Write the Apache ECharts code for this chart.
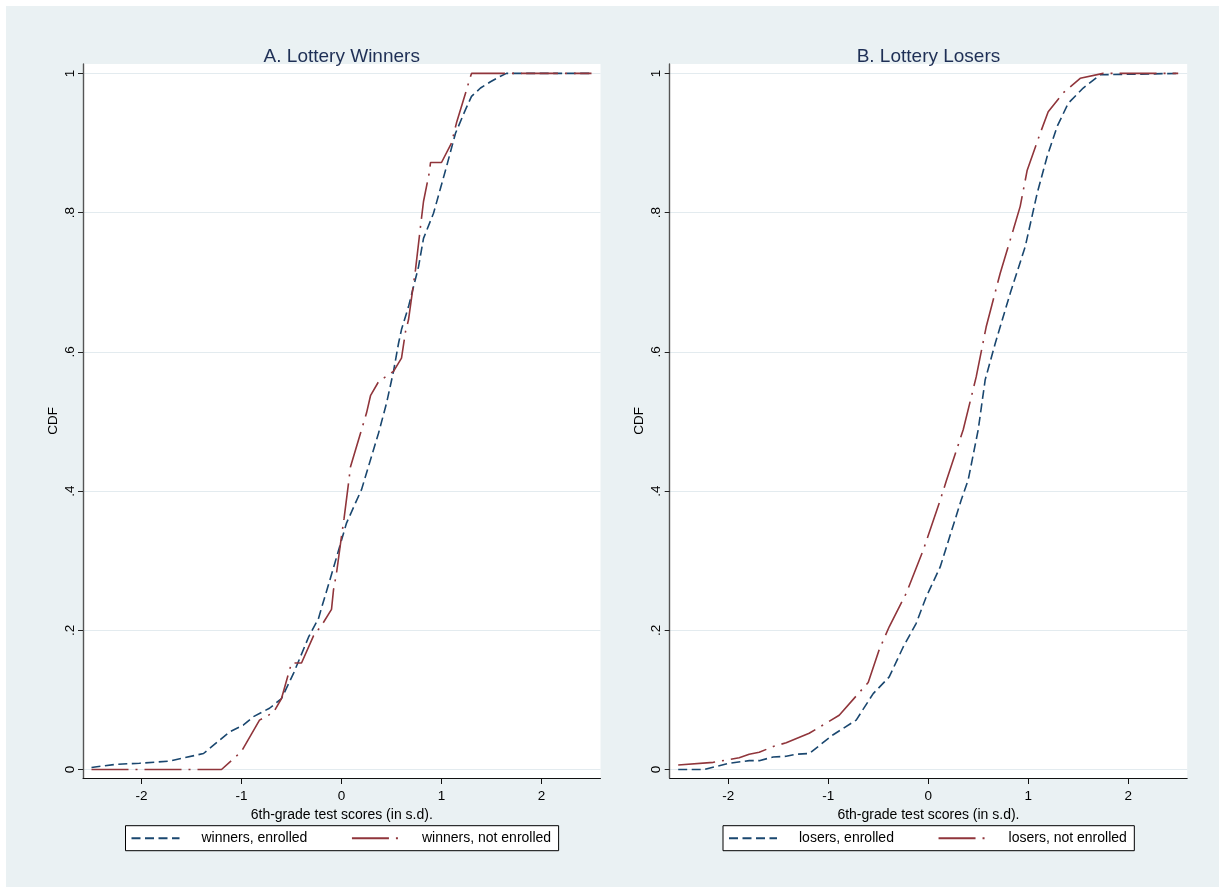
<!DOCTYPE html>
<html>
<head>
<meta charset="utf-8">
<script src="https://cdn.jsdelivr.net/npm/echarts@6/dist/echarts.min.js"></script>
<style>
html,body{margin:0;padding:0;background:#ffffff;}
#chart{position:absolute;left:6px;top:6px;width:1213px;height:881px;}
</style>
</head>
<body>
<div id="chart"></div>
<script>
// ---- tick values / labels ----
const xTicks = [-2, -1, 0, 1, 2];
const yTicks = [0, 0.2, 0.4, 0.6, 0.8, 1];
const yTickLabels = ['0', '.2', '.4', '.6', '.8', '1'];

const panelTitles = ['A. Lottery Winners', 'B. Lottery Losers'];
const xTitle = '6th-grade test scores (in s.d).';
const yTitle = 'CDF';
const seriesNames = ['winners, enrolled', 'winners, not enrolled', 'losers, enrolled', 'losers, not enrolled'];

// ---- Panel A: winners, enrolled ----
const winEnrX = [-2.5, -2.25, -2.02, -1.72, -1.38, -1.12, -0.98, -0.88, -0.72, -0.6, -0.48, -0.33, -0.23, -0.2, -0.1, 0.05, 0.14, 0.2, 0.29, 0.37, 0.45, 0.52, 0.57, 0.6, 0.67, 0.77, 0.82, 0.92, 0.99, 1.05, 1.14, 1.24, 1.3, 1.39, 1.49, 1.59, 1.65, 2.5];
const winEnrY = [0.003, 0.0075, 0.009, 0.012, 0.023, 0.054, 0.064, 0.076, 0.088, 0.102, 0.138, 0.19, 0.217, 0.232, 0.28, 0.354, 0.383, 0.402, 0.445, 0.483, 0.526, 0.572, 0.612, 0.632, 0.665, 0.722, 0.763, 0.799, 0.835, 0.866, 0.914, 0.948, 0.967, 0.979, 0.988, 0.996, 1.0, 1.0];

// ---- Panel A: winners, not enrolled ----
const winNotX = [-2.5, -1.2, -1.0, -0.82, -0.68, -0.6, -0.5, -0.4, -0.28, -0.19, -0.1, -0.08, -0.05, 0.0, 0.025, 0.07, 0.09, 0.19, 0.25, 0.29, 0.37, 0.44, 0.52, 0.6, 0.64, 0.67, 0.74, 0.79, 0.82, 0.88, 0.89, 1.0, 1.1, 1.15, 1.25, 1.28, 1.3, 2.5];
const winNotY = [0.0, 0.0, 0.026, 0.071, 0.082, 0.102, 0.153, 0.153, 0.192, 0.209, 0.23, 0.258, 0.282, 0.335, 0.36, 0.411, 0.435, 0.483, 0.512, 0.537, 0.557, 0.564, 0.572, 0.591, 0.629, 0.646, 0.718, 0.78, 0.816, 0.859, 0.872, 0.872, 0.9, 0.929, 0.976, 0.991, 1.0, 1.0];

// ---- Panel B: losers, enrolled ----
const loseEnrX = [-2.5, -2.24, -1.99, -1.79, -1.69, -1.55, -1.42, -1.32, -1.19, -0.95, -0.72, -0.55, -0.39, -0.25, -0.12, -0.02, 0.12, 0.33, 0.4, 0.5, 0.57, 0.67, 0.82, 0.97, 1.09, 1.19, 1.29, 1.4, 1.55, 1.72, 2.5];
const loseEnrY = [0.0, 0.0, 0.009, 0.0127, 0.0127, 0.018, 0.019, 0.022, 0.023, 0.05, 0.071, 0.109, 0.133, 0.176, 0.21, 0.248, 0.291, 0.387, 0.416, 0.488, 0.56, 0.612, 0.684, 0.751, 0.828, 0.881, 0.924, 0.957, 0.979, 0.998, 1.0];

// ---- Panel B: losers, not enrolled ----
const loseNotX = [-2.5, -2.15, -1.89, -1.79, -1.69, -1.55, -1.42, -1.19, -0.89, -0.65, -0.6, -0.49, -0.39, -0.22, -0.05, 0.12, 0.18, 0.35, 0.48, 0.58, 0.72, 0.85, 0.92, 0.99, 1.12, 1.2, 1.35, 1.52, 1.75, 2.5];
const loseNotY = [0.0065, 0.0103, 0.017, 0.022, 0.0247, 0.033, 0.0385, 0.052, 0.078, 0.117, 0.125, 0.172, 0.205, 0.253, 0.315, 0.387, 0.414, 0.488, 0.564, 0.636, 0.713, 0.775, 0.809, 0.861, 0.914, 0.945, 0.972, 0.993, 1.0, 1.0];

const BLUE = '#1a476f';
const RED = '#90353b';
const FONT = '"Liberation Sans", Arial, Helvetica, sans-serif';

function pairs(xs, ys) { return xs.map((x, i) => [x, ys[i]]); }
function yLabel(v) {
  const i = yTicks.findIndex(t => Math.abs(t - v) < 1e-9);
  return i >= 0 ? yTickLabels[i] : '';
}

const gridLefts = [77, 663.7];
const grids = gridLefts.map(l => ({
  left: l, top: 58, width: 517.5, height: 714,
  show: true, backgroundColor: '#ffffff', borderWidth: 0, containLabel: false
}));

function makeX(idx) {
  return {
    type: 'value', gridIndex: idx, min: -2.585, max: 2.59,
    name: xTitle, nameLocation: 'middle', nameGap: 30,
    nameTextStyle: { color: '#000', fontSize: 14, fontFamily: FONT },
    axisLine: { show: true, onZero: false, lineStyle: { color: '#111', width: 1 } },
    axisTick: { show: true, length: 6, customValues: xTicks, lineStyle: { color: '#111', width: 1 } },
    axisLabel: { customValues: xTicks, margin: 11, color: '#000', fontSize: 13.5, fontFamily: FONT,
      formatter: v => String(v) },
    splitLine: { show: false }
  };
}
function makeY(idx) {
  return {
    type: 'value', gridIndex: idx, min: -0.0122, max: 1.0135,
    name: yTitle, nameLocation: 'middle', nameGap: 23, nameRotate: 90,
    nameTextStyle: { color: '#000', fontSize: 13.5, fontFamily: FONT },
    axisLine: { show: true, onZero: false, lineStyle: { color: '#555', width: 1.4 } },
    axisTick: { show: true, length: 5, customValues: yTicks, lineStyle: { color: '#222', width: 1 } },
    axisLabel: { customValues: yTicks, rotate: 90, margin: 6, color: '#000', fontSize: 13.5, fontFamily: FONT,
      formatter: yLabel },
    splitLine: { show: true, lineStyle: { color: '#e3ebef', width: 1.2 } }
  };
}

const dashBlue = [9, 4.5];
const dashRed = [37, 7, 2, 7];

function line(name, xs, ys, idx, color, dash) {
  return {
    name: name, type: 'line', xAxisIndex: idx, yAxisIndex: idx,
    data: pairs(xs, ys), symbol: 'none', smooth: false,
    lineStyle: { color: color, width: 1.6, type: dash },
    itemStyle: { color: color },
    emphasis: { disabled: true }
  };
}

function makeLegend(left, names) {
  return {
    data: names, left: left, top: 819.7, orient: 'horizontal',
    padding: [5.5, 7.5, 5.5, 5], itemWidth: 48, itemHeight: 14, itemGap: 43.6,
    backgroundColor: '#ffffff', borderColor: '#000', borderWidth: 1, borderRadius: 0,
    itemStyle: { color: 'transparent', borderColor: 'transparent', borderWidth: 0, opacity: 0 },
    textStyle: { color: '#000', fontSize: 14, fontFamily: FONT, padding: [0, 0, 0, 17] },
    selectedMode: false
  };
}

const chart = echarts.init(document.getElementById('chart'), null, { renderer: 'canvas' });
chart.setOption({
  animation: false,
  backgroundColor: '#eaf1f3',
  title: panelTitles.map((t, i) => ({
    text: t, left: gridLefts[i] + 517.5 / 2, top: 41, textAlign: 'center', padding: 0,
    textStyle: { color: '#1e2f55', fontSize: 19, fontWeight: 'normal', fontFamily: FONT }
  })),
  grid: grids,
  xAxis: [makeX(0), makeX(1)],
  yAxis: [makeY(0), makeY(1)],
  legend: [
    makeLegend(119.5, [seriesNames[0], seriesNames[1]]),
    makeLegend(717, [seriesNames[2], seriesNames[3]])
  ],
  series: [
    line(seriesNames[0], winEnrX, winEnrY, 0, BLUE, dashBlue),
    line(seriesNames[1], winNotX, winNotY, 0, RED, dashRed),
    line(seriesNames[2], loseEnrX, loseEnrY, 1, BLUE, dashBlue),
    line(seriesNames[3], loseNotX, loseNotY, 1, RED, dashRed)
  ]
});
</script>
</body>
</html>
